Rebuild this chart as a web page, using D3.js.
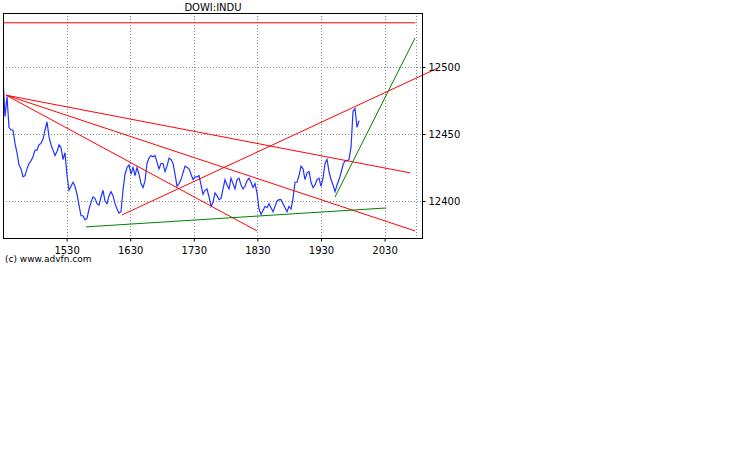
<!DOCTYPE html>
<html><head><meta charset="utf-8">
<script src="https://cdn.jsdelivr.net/npm/d3@7"></script>
<style>body{margin:0;background:#fff}svg{display:block}text{font-family:"DejaVu Sans",Verdana,sans-serif}</style>
</head><body><svg id="c" width="738" height="475"></svg>
<script>
const title = "DOWI:INDU";
const credit = "(c) www.advfn.com";
// minutes after 14:30
const xTickValues = [60,120,180,240,300,360];
const xTickLabels = ["1530","1630","1730","1830","1930","2030"];
const extraGrid = [390];
const yTickValues = [12400,12450,12500];
const sampleStepMinutes = 1.887;
const prices = [12492,12463,12478,12455,12453,12453,12443,12436,12427,12424,12418,12419,12424,12428,12430,12433,12438,12438,12442,12443,12446,12453,12459,12448,12442,12438,12434,12437,12442,12440,12431,12436,12419,12408,12411,12414,12411,12405,12397,12389,12389,12386,12387,12394,12399,12403,12402,12398,12397,12403,12408,12400,12398,12404,12407,12404,12398,12394,12391,12392,12408,12420,12425,12427,12420,12425,12419,12425,12420,12413,12410,12415,12428,12432,12434,12433,12434,12429,12424,12428,12428,12422,12426,12432,12431,12428,12420,12411,12413,12416,12421,12426,12425,12424,12420,12416,12418,12418,12419,12412,12405,12408,12409,12403,12396,12399,12406,12404,12401,12402,12409,12416,12412,12409,12417,12413,12409,12416,12417,12412,12409,12411,12415,12417,12414,12410,12413,12406,12394,12390,12393,12396,12395,12398,12395,12392,12396,12400,12401,12401,12398,12395,12392,12396,12394,12402,12414,12414,12419,12426,12424,12416,12421,12422,12414,12410,12412,12416,12417,12411,12417,12428,12431,12422,12416,12412,12407,12412,12416,12421,12427,12430,12430,12431,12440,12467,12469,12455,12460];
const redLines = [
  [[0,12533],[389,12533]],
  [[2.8,12479],[384,12421]],
  [[2.8,12479],[388.7,12377.7]],
  [[2.8,12479],[239.6,12377.7]],
  [[112.3,12389.6],[410.4,12499.3]]
];
const greenLines = [
  [[78.3,12380.7],[361.3,12394.8]],
  [[313.2,12403],[388.7,12521.6]]
];

const svg = d3.select("#c");
const L=3,R=422,T=13,B=238;
const x = d3.scaleLinear().domain([0,395.3]).range([L,R]);
const y = d3.scaleLinear().domain([12372.4,12540.3]).range([B,T]);

const grid = svg.append("g").attr("stroke","#888").attr("stroke-dasharray","1,2").attr("stroke-width",1);
xTickValues.concat(extraGrid).forEach(v=>grid.append("line").attr("x1",Math.round(x(v))+0.5).attr("x2",Math.round(x(v))+0.5).attr("y1",T).attr("y2",B));
yTickValues.forEach(v=>grid.append("line").attr("y1",Math.round(y(v))+0.5).attr("y2",Math.round(y(v))+0.5).attr("x1",L).attr("x2",R));

const clip = svg.append("clipPath").attr("id","cp").append("rect").attr("x",L).attr("y",T).attr("width",R-L).attr("height",B-T);
const line = d3.line().x(d=>x(d[0])).y(d=>y(d[1]));

svg.append("path").datum(prices.map((p,i)=>[i*sampleStepMinutes,p]))
  .attr("d",line).attr("fill","none").attr("stroke","#2233ff").attr("stroke-width",1.2).attr("clip-path","url(#cp)");
redLines.forEach(l=>svg.append("path").attr("d",line(l)).attr("stroke","#ff0000").attr("fill","none"));
greenLines.forEach(l=>svg.append("path").attr("d",line(l)).attr("stroke","#008000").attr("fill","none"));

svg.append("rect").attr("x",L+0.5).attr("y",T+0.5).attr("width",R-L).attr("height",B-T).attr("fill","none").attr("stroke","#000");

const xa = svg.append("g").attr("transform",`translate(0,${B+0.5})`)
  .call(d3.axisBottom(x).tickValues(xTickValues).tickFormat((d,i)=>xTickLabels[i]).tickSize(3).tickSizeOuter(0));
xa.select(".domain").remove();
xa.selectAll("text").attr("font-size",10).attr("fill","#000").attr("dy","0.9em");
const ya = svg.append("g").attr("transform",`translate(${R+0.5},0)`)
  .call(d3.axisRight(y).tickValues(yTickValues).tickFormat(d3.format("d")).tickSize(3).tickSizeOuter(0));
ya.select(".domain").remove();
ya.selectAll("text").attr("font-size",10).attr("fill","#000");

svg.append("text").attr("x",213).attr("y",11).attr("text-anchor","middle").attr("font-size",10).text(title);
svg.append("text").attr("x",5).attr("y",262).attr("font-size",9).text(credit);
</script></body></html>
